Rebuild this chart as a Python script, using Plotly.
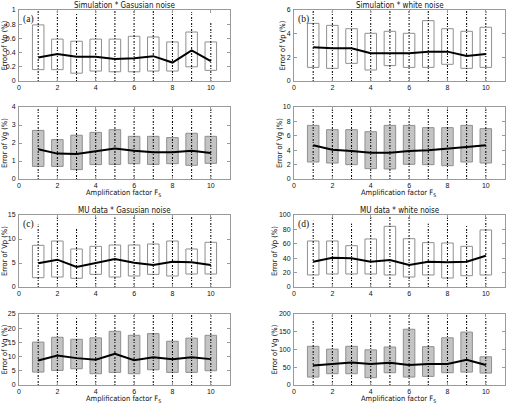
import plotly.graph_objects as go

x = list(range(1, 11))

# (a) Simulation * Gaussian noise
a_vp_low = [0.16, 0.16, 0.11, 0.14, 0.13, 0.13, 0.14, 0.14, 0.20, 0.15]
a_vp_high = [0.79, 0.59, 0.56, 0.59, 0.59, 0.63, 0.62, 0.55, 0.69, 0.55]
a_vp_mean = [0.33, 0.38, 0.34, 0.34, 0.31, 0.32, 0.35, 0.26, 0.43, 0.28]
a_vp_dots = [1.0, 1.0, 0.95, 1.0, 1.0, 1.0, 1.0, 1.0, 0.97, 0.84]
a_vg_low = [0.70, 0.70, 0.52, 0.80, 0.81, 0.85, 0.81, 0.85, 0.76, 0.87]
a_vg_high = [2.70, 2.19, 2.43, 2.59, 2.74, 2.37, 2.37, 2.30, 2.54, 2.37]
a_vg_mean = [1.65, 1.41, 1.39, 1.54, 1.70, 1.57, 1.48, 1.48, 1.57, 1.44]
a_vg_dots = [4, 4, 4, 4, 4, 4, 4, 4, 4, 4]

# (b) Simulation * white noise
b_vp_low = [1.15, 1.07, 1.49, 0.93, 1.30, 1.15, 1.15, 1.41, 1.07, 1.15]
b_vp_high = [4.87, 4.70, 4.42, 4.03, 4.20, 4.03, 5.10, 4.42, 4.20, 4.54]
b_vp_mean = [2.85, 2.76, 2.76, 2.34, 2.34, 2.34, 2.48, 2.48, 2.11, 2.28]
b_vp_dots = [6, 6, 6, 6, 6, 6, 6, 6, 6, 6]
b_vg_low = [2.36, 2.22, 1.99, 1.44, 1.39, 2.04, 1.99, 1.85, 2.36, 2.22]
b_vg_high = [7.45, 6.85, 6.85, 6.57, 7.45, 7.45, 7.13, 7.13, 7.45, 6.99]
b_vg_mean = [4.68, 4.07, 3.89, 3.66, 3.66, 3.89, 3.98, 4.17, 4.44, 4.68]
b_vg_dots = [10, 10, 10, 10, 10, 10, 10, 10, 10, 10]

# (c) MU data * Gaussian noise
c_vp_low = [1.94, 2.08, 1.81, 2.64, 2.08, 2.29, 2.64, 2.29, 2.71, 2.71]
c_vp_high = [8.68, 9.58, 7.92, 8.47, 8.75, 8.75, 8.96, 9.58, 7.92, 9.31]
c_vp_mean = [4.93, 5.69, 4.17, 4.93, 5.83, 5.07, 4.58, 5.28, 5.14, 4.58]
c_vp_dots = [13, 15, 12.5, 15, 14.5, 15, 13.5, 15, 15, 15]
c_vg_low = [4.56, 5.14, 5.72, 3.97, 4.44, 3.97, 5.37, 4.44, 4.44, 5.02]
c_vg_high = [15.1, 16.8, 16.1, 16.6, 18.9, 17.5, 18.1, 15.4, 16.5, 17.5]
c_vg_mean = [8.64, 10.4, 9.46, 8.88, 11.0, 8.76, 9.81, 9.11, 9.81, 9.11]
c_vg_dots = [25, 25, 24, 25, 25, 25, 25, 25, 25, 25]

# (d) MU data * white noise
d_vp_low = [16.7, 18.1, 18.1, 18.1, 16.7, 13.9, 16.7, 12.5, 15.7, 16.7]
d_vp_high = [63.9, 63.9, 57.4, 66.7, 84.3, 67.1, 61.6, 61.1, 56.5, 79.2]
d_vp_mean = [35.2, 40.7, 39.8, 35.2, 37.5, 30.6, 35.2, 34.3, 35.2, 43.5]
d_vp_dots = [92, 100, 88, 100, 100, 100, 88, 100, 86, 100]
d_vg_low = [22.4, 31.8, 31.8, 20.6, 34.6, 22.4, 24.3, 34.6, 36.4, 33.6]
d_vg_high = [109, 101, 109, 99, 107, 157, 108, 133, 149, 79.4]
d_vg_mean = [55.1, 58.9, 63.6, 58.9, 62.6, 56.1, 58.9, 58.9, 71.0, 56.1]
d_vg_dots = [185, 200, 200, 185, 200, 200, 200, 200, 200, 190]

titles = ["Simulation * Gasusian noise", "Simulation * white noise",
          "MU data * Gasusian noise", "MU data * white noise"]
letters = ["(a)", "(b)", "(c)", "(d)"]
x_tick_vals = [0, 2, 4, 6, 8, 10]
x_title = "Amplification factor F<sub>S</sub>"

panels = [
    # (low, high, mean, dots, ymax, ydtick, ylabel, filled, col, row, ytitle_px)
    (a_vp_low, a_vp_high, a_vp_mean, a_vp_dots, 1, 0.2, "Error of Vp (%)", False, 0, 0, 4),
    (a_vg_low, a_vg_high, a_vg_mean, a_vg_dots, 4, 1, "Error of Vg (%)", True, 0, 1, 4),
    (b_vp_low, b_vp_high, b_vp_mean, b_vp_dots, 6, 2, "Error of Vp (%)", False, 1, 0, 282),
    (b_vg_low, b_vg_high, b_vg_mean, b_vg_dots, 10, 2, "Error of Vg (%)", True, 1, 1, 279),
    (c_vp_low, c_vp_high, c_vp_mean, c_vp_dots, 15, 5, "Error of Vp (%)", False, 0, 2, 4),
    (c_vg_low, c_vg_high, c_vg_mean, c_vg_dots, 25, 5, "Error of Vg (%)", True, 0, 3, 4),
    (d_vp_low, d_vp_high, d_vp_mean, d_vp_dots, 100, 20, "Error of Vp (%)", False, 1, 2, 274),
    (d_vg_low, d_vg_high, d_vg_mean, d_vg_dots, 200, 50, "Error of Vg (%)", True, 1, 3, 274),
]

W, H = 507, 404
xpix = [(19, 230), (294, 505)]
ypix = [(10, 81), (107, 179), (215, 287), (314, 385)]
xdom = [(l / W, r / W) for (l, r) in xpix]
ydom = [(1 - b / H, 1 - t / H) for (t, b) in ypix]

FONT = "Liberation Sans, Arial, sans-serif"
NARROW = "Liberation Sans Narrow, Arial Narrow, DejaVu Sans Condensed, sans-serif"
fig = go.Figure()
layout = dict(width=W, height=H, margin=dict(l=0, r=0, t=0, b=0, autoexpand=False),
              paper_bgcolor="white", plot_bgcolor="white", showlegend=False,
              barmode="overlay", font=dict(family=FONT, size=7, color="#111"))
annotations = []


def ann(text, px, py, size, family=NARROW, angle=0, xanchor="center"):
    annotations.append(dict(text=text, x=px / W, y=1 - py / H, xref="paper", yref="paper",
                            xanchor=xanchor, yanchor="middle", showarrow=False,
                            textangle=angle, font=dict(family=family, size=size, color="#111")))


for i, (low, high, mean, dots, ymax, dt, ylab, filled, col, row, ytx) in enumerate(panels):
    n = i + 1
    xa = "x" if n == 1 else f"x{n}"
    ya = "y" if n == 1 else f"y{n}"
    # boxes
    fig.add_trace(go.Bar(x=x, y=[h - l for l, h in zip(low, high)], base=low,
                         width=0.6, xaxis=xa, yaxis=ya,
                         marker=dict(color="#c4c4c4" if filled else "rgba(255,255,255,0)",
                                     line=dict(color="#8f8f8f", width=1))))
    # dot columns
    dx, dy = [], []
    for xi, top in zip(x, dots):
        dx += [xi, xi, None]
        dy += [0, top, None]
    fig.add_trace(go.Scatter(x=dx, y=dy, mode="lines", xaxis=xa, yaxis=ya,
                             line=dict(color="black", width=1, dash="1px,1px,2px,2px")))
    # mean line
    fig.add_trace(go.Scatter(x=x, y=mean, mode="lines", xaxis=xa, yaxis=ya,
                             line=dict(color="black", width=2)))
    axcommon = dict(showline=True, linecolor="#9a9a9a", linewidth=1, mirror="allticks",
                    ticks="inside", ticklen=3, tickcolor="#9a9a9a", showgrid=False,
                    zeroline=False, automargin=False, tickfont=dict(size=7, color="#111"))
    xkey = "xaxis" if n == 1 else f"xaxis{n}"
    ykey = "yaxis" if n == 1 else f"yaxis{n}"
    layout[xkey] = dict(axcommon, domain=xdom[col], range=[0, 11], tickvals=x_tick_vals,
                        anchor=ya, ticklabelstandoff=0)
    layout[ykey] = dict(axcommon, domain=ydom[row], range=[0, ymax], dtick=dt,
                        anchor=xa, ticklabelstandoff=1)
    top_px, bot_px = ypix[row]
    ann(ylab, ytx, (top_px + bot_px) / 2, 7.5, angle=-90)
    if row in (1, 3):
        l, r = xpix[col]
        ann(x_title, (l + r) / 2 - 1, bot_px + 14, 7.5)
    if row in (0, 2):
        annotations.append(dict(text=letters[col + row], x=0.01, y=0.97,
                                xref=f"{xa} domain", yref=f"{ya} domain",
                                xanchor="left", yanchor="top", showarrow=False,
                                font=dict(family="Liberation Serif, Times New Roman, serif",
                                          size=9.5, color="#111")))

for t, col, row in zip(titles, [0, 1, 0, 1], [0, 0, 2, 2]):
    l, r = xpix[col]
    ann(t, (l + r) / 2, ypix[row][0] - 5, 8)

layout["annotations"] = annotations
fig.update_layout(**layout)
fig.write_html("out.html", config={"displayModeBar": False},
               post_script="document.body.style.margin='0';document.body.style.overflow='hidden';")
